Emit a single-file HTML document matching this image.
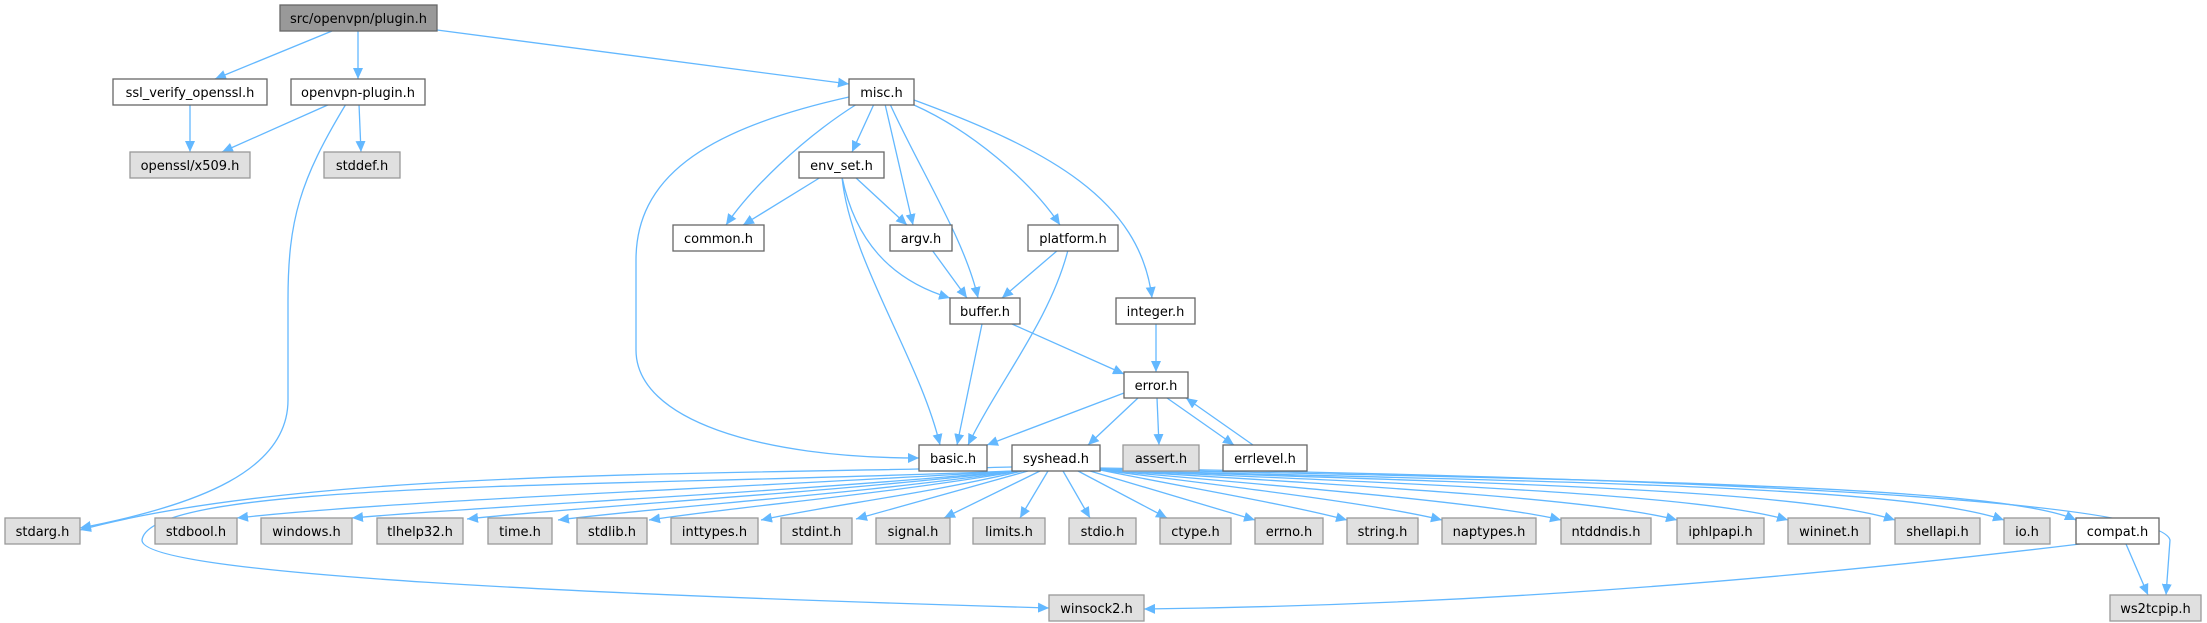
<!DOCTYPE html>
<html><head><meta charset="utf-8"><style>
html,body{margin:0;padding:0;background:#fff;}
svg{display:block;}
text{font-family:"DejaVu Sans","Liberation Sans",sans-serif;font-size:13px;text-anchor:middle;fill:#000;}
.n{fill:#fff;stroke:#666;stroke-width:1.3;}
.x{fill:#e0e0e0;stroke:#999;stroke-width:1.3;}
.r{fill:#999;stroke:#666;stroke-width:1.3;}
path{fill:none;stroke:#63b8ff;stroke-width:1.3;}
</style></head><body>
<svg width="2207" height="623" viewBox="0 0 2207 623" xmlns="http://www.w3.org/2000/svg">
<defs><marker id="a" markerUnits="userSpaceOnUse" markerWidth="12" markerHeight="10" refX="11" refY="5" orient="auto"><polygon points="0,0 11,5 0,10" fill="#63b8ff"/></marker></defs>
<g marker-end="url(#a)">
<path d="M332,31 L215,79"/>
<path d="M358,31 L358,79"/>
<path d="M437,30 L849,84"/>
<path d="M190,104 L190,152"/>
<path d="M330,104 L222,152"/>
<path d="M359,104 L361,152"/>
<path d="M346,104 C300,180 288,220 288,300 L288,400 C288,470 200,505 80,528"/>
<path d="M849,97 C700,130 636,180 636,260 L636,350 C636,420 760,458 919,458"/>
<path d="M857,104 C800,140 750,190 726,225"/>
<path d="M874,104 L852,152"/>
<path d="M885,104 L913,225"/>
<path d="M890,104 C920,170 965,240 978,298"/>
<path d="M914,105 C970,130 1030,180 1060,225"/>
<path d="M914,100 C1050,150 1140,200 1152,298"/>
<path d="M821,177 L743,225"/>
<path d="M855,177 L907,225"/>
<path d="M842,177 C855,240 890,280 950,298"/>
<path d="M842,177 C850,260 920,360 940,445"/>
<path d="M932,250 L967,298"/>
<path d="M1058,250 L1002,298"/>
<path d="M1068,250 C1050,320 1000,380 968,445"/>
<path d="M982,324 L957,445"/>
<path d="M1012,324 L1124,374"/>
<path d="M1156,324 L1156,372"/>
<path d="M1124,393 L987,445"/>
<path d="M1138,398 L1088,445"/>
<path d="M1157,398 L1159,445"/>
<path d="M1167,398 L1234,445"/>
<path d="M1253,445 L1186,398"/>
<path d="M1012,467 C700,475 300,470 80,530"/>
<path d="M1012,471 C600,488 150,480 142,540 C140,575 600,595 1049,608"/>
<path d="M1015,471 C700,490 400,500 237,518"/>
<path d="M1015,471 C750,495 500,505 352,518"/>
<path d="M1016,471 C800,495 600,505 467,519"/>
<path d="M1018,471 C850,495 680,505 558,520"/>
<path d="M1020,471 C880,495 750,505 649,520"/>
<path d="M1022,471 C920,495 830,505 761,520"/>
<path d="M1028,471 L856,519"/>
<path d="M1040,471 L944,518"/>
<path d="M1048,471 L1020,518"/>
<path d="M1063,471 L1090,518"/>
<path d="M1078,471 L1167,518"/>
<path d="M1090,471 L1255,520"/>
<path d="M1100,470 C1200,490 1290,505 1347,520"/>
<path d="M1100,470 C1260,490 1380,505 1442,520"/>
<path d="M1100,470 C1330,490 1500,505 1561,520"/>
<path d="M1100,470 C1400,488 1600,500 1677,520"/>
<path d="M1100,470 C1450,485 1700,495 1788,520"/>
<path d="M1100,470 C1500,483 1800,490 1895,520"/>
<path d="M1100,470 C1550,482 1900,485 2004,520"/>
<path d="M1100,469 C1600,480 2000,485 2076,520"/>
<path d="M1100,468 C1700,478 2160,500 2170,540 L2166,595"/>
<path d="M2080,544 C1700,590 1400,606 1144,609"/>
<path d="M2126,544 L2148,595"/>
</g>
<rect class="r" x="280" y="5" width="157" height="26"/><text x="358.5" y="23">src/openvpn/plugin.h</text>
<rect class="n" x="113" y="79" width="154" height="26"/><text x="190" y="97">ssl_verify_openssl.h</text>
<rect class="n" x="291" y="79" width="134" height="26"/><text x="358" y="97">openvpn-plugin.h</text>
<rect class="n" x="849" y="79" width="65" height="26"/><text x="881.5" y="97">misc.h</text>
<rect class="x" x="130" y="152" width="120" height="26"/><text x="190" y="170">openssl/x509.h</text>
<rect class="x" x="324" y="152" width="76" height="26"/><text x="362" y="170">stddef.h</text>
<rect class="n" x="799" y="152" width="85" height="26"/><text x="841.5" y="170">env_set.h</text>
<rect class="n" x="673" y="225" width="91" height="26"/><text x="718.5" y="243">common.h</text>
<rect class="n" x="890" y="225" width="62" height="26"/><text x="921" y="243">argv.h</text>
<rect class="n" x="1028" y="225" width="90" height="26"/><text x="1073" y="243">platform.h</text>
<rect class="n" x="950" y="298" width="70" height="26"/><text x="985" y="316">buffer.h</text>
<rect class="n" x="1116" y="298" width="79" height="26"/><text x="1155.5" y="316">integer.h</text>
<rect class="n" x="1124" y="372" width="64" height="26"/><text x="1156" y="390">error.h</text>
<rect class="n" x="919" y="445" width="68" height="26"/><text x="953" y="463">basic.h</text>
<rect class="n" x="1012" y="445" width="88" height="26"/><text x="1056" y="463">syshead.h</text>
<rect class="x" x="1123" y="445" width="76" height="26"/><text x="1161" y="463">assert.h</text>
<rect class="n" x="1223" y="445" width="84" height="26"/><text x="1265" y="463">errlevel.h</text>
<rect class="x" x="5" y="518" width="75" height="26"/><text x="42.5" y="536">stdarg.h</text>
<rect class="x" x="155" y="518" width="82" height="26"/><text x="196" y="536">stdbool.h</text>
<rect class="x" x="261" y="518" width="91" height="26"/><text x="306.5" y="536">windows.h</text>
<rect class="x" x="377" y="518" width="86" height="26"/><text x="420" y="536">tlhelp32.h</text>
<rect class="x" x="488" y="518" width="64" height="26"/><text x="520" y="536">time.h</text>
<rect class="x" x="577" y="518" width="70" height="26"/><text x="612" y="536">stdlib.h</text>
<rect class="x" x="671" y="518" width="87" height="26"/><text x="714.5" y="536">inttypes.h</text>
<rect class="x" x="781" y="518" width="71" height="26"/><text x="816.5" y="536">stdint.h</text>
<rect class="x" x="876" y="518" width="74" height="26"/><text x="913" y="536">signal.h</text>
<rect class="x" x="973" y="518" width="72" height="26"/><text x="1009" y="536">limits.h</text>
<rect class="x" x="1069" y="518" width="67" height="26"/><text x="1102.5" y="536">stdio.h</text>
<rect class="x" x="1160" y="518" width="71" height="26"/><text x="1195.5" y="536">ctype.h</text>
<rect class="x" x="1255" y="518" width="68" height="26"/><text x="1289" y="536">errno.h</text>
<rect class="x" x="1347" y="518" width="71" height="26"/><text x="1382.5" y="536">string.h</text>
<rect class="x" x="1442" y="518" width="94" height="26"/><text x="1489" y="536">naptypes.h</text>
<rect class="x" x="1561" y="518" width="90" height="26"/><text x="1606" y="536">ntddndis.h</text>
<rect class="x" x="1677" y="518" width="87" height="26"/><text x="1720.5" y="536">iphlpapi.h</text>
<rect class="x" x="1788" y="518" width="82" height="26"/><text x="1829" y="536">wininet.h</text>
<rect class="x" x="1895" y="518" width="85" height="26"/><text x="1937.5" y="536">shellapi.h</text>
<rect class="x" x="2004" y="518" width="46" height="26"/><text x="2027" y="536">io.h</text>
<rect class="n" x="2076" y="518" width="83" height="26"/><text x="2117.5" y="536">compat.h</text>
<rect class="x" x="1049" y="595" width="95" height="26"/><text x="1096.5" y="613">winsock2.h</text>
<rect class="x" x="2110" y="595" width="91" height="26"/><text x="2155.5" y="613">ws2tcpip.h</text>
</svg>
</body></html>
